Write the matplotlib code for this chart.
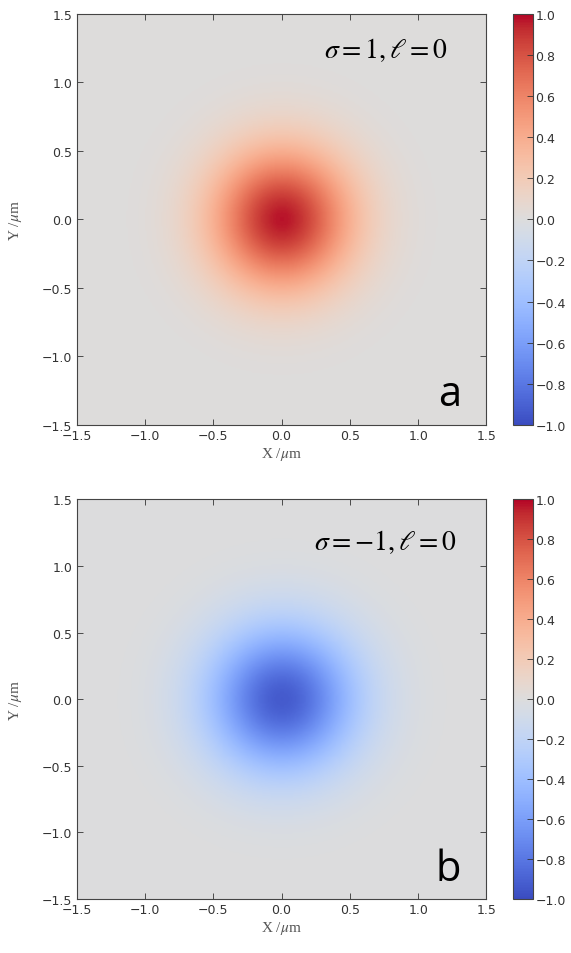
import numpy as np
import matplotlib
matplotlib.use('Agg')
import matplotlib.pyplot as plt

# grid of the field (um)
x_vals = np.linspace(-1.5, 1.5, 301)
y_vals = np.linspace(-1.5, 1.5, 301)

# peak value and 1/e radius of each spot
peak_a = 0.97
peak_b = -0.93
width_a = 0.52
width_b = 0.55

titles = [r'$\sigma = 1, \ell = 0$', r'$\sigma = -1, \ell = 0$']
letters = ['a', 'b']
ticks = [-1.5, -1.0, -0.5, 0.0, 0.5, 1.0, 1.5]
cbar_ticks = [-1.0, -0.8, -0.6, -0.4, -0.2, 0.0, 0.2, 0.4, 0.6, 0.8, 1.0]

plt.rcParams['mathtext.fontset'] = 'stix'
plt.rcParams['font.family'] = 'DejaVu Sans'

X, Y = np.meshgrid(x_vals, y_vals)
R2 = X**2 + Y**2
fields = [peak_a * np.exp(-R2 / width_a**2), peak_b * np.exp(-R2 / width_b**2)]

fig = plt.figure(figsize=(5.71, 9.54), dpi=100)

# positions in figure fractions
ax_pos = [[0.134, 0.5535, 0.718, 0.431], [0.134, 0.0566, 0.718, 0.419]]
cb_pos = [[0.898, 0.5535, 0.035, 0.431], [0.898, 0.0566, 0.035, 0.419]]
txt_pos = [(0.906, 0.915), (0.928, 0.895)]

for i in range(2):
    ax = fig.add_axes(ax_pos[i])
    im = ax.imshow(fields[i], cmap='coolwarm', vmin=-1, vmax=1, origin='lower',
                   extent=[-1.5, 1.5, -1.5, 1.5], aspect='auto', interpolation='bilinear')
    ax.set_xlim(-1.5, 1.5)
    ax.set_ylim(-1.5, 1.5)
    ax.set_xticks(ticks)
    ax.set_yticks(ticks)
    ax.tick_params(direction='in', top=True, right=True, length=4, width=0.6,
                   labelsize=9, colors='#333333', pad=3)
    for sp in ax.spines.values():
        sp.set_color('#444444')
    ax.set_xlabel(r'X /$\mu$m', family='Liberation Serif', fontsize=11, color='#555555', labelpad=2)
    ax.set_ylabel(r'Y /$\mu$m', family='Liberation Serif', fontsize=11, color='#555555', labelpad=13)
    ax.text(txt_pos[i][0], txt_pos[i][1], titles[i], transform=ax.transAxes,
            ha='right', va='center', fontsize=20)
    ax.text(0.938, 0.075, letters[i], transform=ax.transAxes, ha='right', va='center',
            fontsize=30, family='Open Sans')

    cax = fig.add_axes(cb_pos[i])
    cb = fig.colorbar(im, cax=cax, ticks=cbar_ticks)
    cb.ax.tick_params(direction='in', length=4, width=0.6, labelsize=9, colors='#333333', pad=2)
    cb.outline.set_edgecolor('#444444')

fig.savefig('out.png', dpi=100)
